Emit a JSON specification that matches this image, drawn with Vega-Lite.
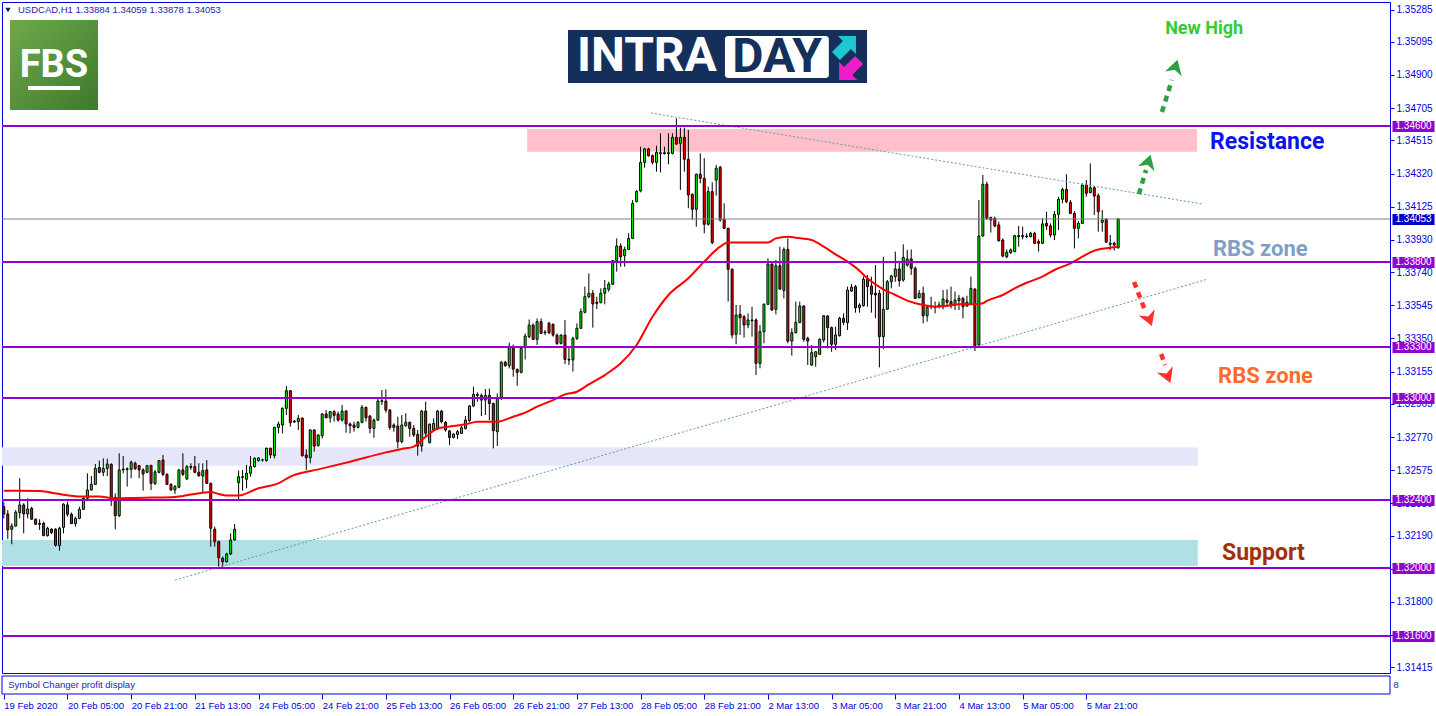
{
"$schema": "https://vega.github.io/schema/vega-lite/v6.json",
"background": "#ffffff",
"autosize": {"type": "none"},
"padding": {"left": 2, "top": 2, "right": 46, "bottom": 43},
"width": 1388,
"height": 671,
"config": {"view": {"stroke": "#0000e0", "strokeWidth": 1}, "axis": {"grid": false}, "scale": {"continuousPadding": 0}},
"resolve": {"axis": {"x": "independent", "y": "independent"}},
"datasets": {
"candles": [
{"i":0,"o":1.32361,"h":1.3239,"l":1.32292,"c":1.32318},
{"i":1,"o":1.32318,"h":1.32341,"l":1.32171,"c":1.32224},
{"i":2,"o":1.32228,"h":1.32263,"l":1.3214,"c":1.32247},
{"i":3,"o":1.32247,"h":1.32341,"l":1.32243,"c":1.32328},
{"i":4,"o":1.32326,"h":1.32528,"l":1.32292,"c":1.32371},
{"i":5,"o":1.32371,"h":1.32381,"l":1.32204,"c":1.32318},
{"i":6,"o":1.32318,"h":1.3241,"l":1.32292,"c":1.32347},
{"i":7,"o":1.32351,"h":1.32361,"l":1.32283,"c":1.32287},
{"i":8,"o":1.32287,"h":1.32292,"l":1.32253,"c":1.32257},
{"i":9,"o":1.32263,"h":1.32287,"l":1.32224,"c":1.32257},
{"i":10,"o":1.32263,"h":1.32273,"l":1.32188,"c":1.3219},
{"i":11,"o":1.3219,"h":1.32243,"l":1.32185,"c":1.32234},
{"i":12,"o":1.32228,"h":1.32234,"l":1.322,"c":1.32208},
{"i":13,"o":1.32228,"h":1.32234,"l":1.32126,"c":1.32134},
{"i":14,"o":1.32132,"h":1.32243,"l":1.32102,"c":1.32234},
{"i":15,"o":1.32239,"h":1.32381,"l":1.32204,"c":1.32375},
{"i":16,"o":1.32371,"h":1.3239,"l":1.32302,"c":1.32316},
{"i":17,"o":1.32316,"h":1.32326,"l":1.32259,"c":1.32261},
{"i":18,"o":1.32261,"h":1.32302,"l":1.32243,"c":1.32292},
{"i":19,"o":1.32292,"h":1.32361,"l":1.32287,"c":1.32345},
{"i":20,"o":1.32345,"h":1.3242,"l":1.32341,"c":1.3241},
{"i":21,"o":1.3241,"h":1.32557,"l":1.324,"c":1.32459},
{"i":22,"o":1.32459,"h":1.32541,"l":1.32455,"c":1.32492},
{"i":23,"o":1.32492,"h":1.32612,"l":1.32488,"c":1.32586},
{"i":24,"o":1.32592,"h":1.32632,"l":1.32557,"c":1.32563},
{"i":25,"o":1.32563,"h":1.32645,"l":1.32541,"c":1.32586},
{"i":26,"o":1.32586,"h":1.32643,"l":1.32541,"c":1.32612},
{"i":27,"o":1.3261,"h":1.32615,"l":1.32365,"c":1.32396},
{"i":28,"o":1.32416,"h":1.32439,"l":1.32228,"c":1.32308},
{"i":29,"o":1.32308,"h":1.32675,"l":1.323,"c":1.32577},
{"i":30,"o":1.32577,"h":1.32659,"l":1.32557,"c":1.32582},
{"i":31,"o":1.3258,"h":1.32592,"l":1.32479,"c":1.32584},
{"i":32,"o":1.3258,"h":1.32632,"l":1.32528,"c":1.32622},
{"i":33,"o":1.32616,"h":1.32626,"l":1.32577,"c":1.32584},
{"i":34,"o":1.32602,"h":1.32606,"l":1.32528,"c":1.32577},
{"i":35,"o":1.32577,"h":1.32587,"l":1.32455,"c":1.32553},
{"i":36,"o":1.32563,"h":1.32606,"l":1.32557,"c":1.32602},
{"i":37,"o":1.32604,"h":1.32606,"l":1.32459,"c":1.32498},
{"i":38,"o":1.32498,"h":1.32577,"l":1.32488,"c":1.32565},
{"i":39,"o":1.32563,"h":1.32635,"l":1.32557,"c":1.32632},
{"i":40,"o":1.32635,"h":1.32665,"l":1.32541,"c":1.32551},
{"i":41,"o":1.32551,"h":1.32557,"l":1.32488,"c":1.32492},
{"i":42,"o":1.32492,"h":1.32498,"l":1.32455,"c":1.32459},
{"i":43,"o":1.32459,"h":1.32488,"l":1.32435,"c":1.32479},
{"i":44,"o":1.32475,"h":1.3258,"l":1.32469,"c":1.32577},
{"i":45,"o":1.32577,"h":1.32675,"l":1.32541,"c":1.32551},
{"i":46,"o":1.32524,"h":1.32606,"l":1.32518,"c":1.32596},
{"i":47,"o":1.32592,"h":1.32616,"l":1.32577,"c":1.32598},
{"i":48,"o":1.32596,"h":1.32659,"l":1.32557,"c":1.32563},
{"i":49,"o":1.32563,"h":1.32616,"l":1.32537,"c":1.32543},
{"i":50,"o":1.32541,"h":1.32616,"l":1.32443,"c":1.32573},
{"i":51,"o":1.32577,"h":1.32635,"l":1.32494,"c":1.32498},
{"i":52,"o":1.32498,"h":1.32502,"l":1.32126,"c":1.32234},
{"i":53,"o":1.32228,"h":1.32243,"l":1.32126,"c":1.32155},
{"i":54,"o":1.32155,"h":1.32161,"l":1.32008,"c":1.32061},
{"i":55,"o":1.32057,"h":1.32067,"l":1.32004,"c":1.32037},
{"i":56,"o":1.32037,"h":1.3209,"l":1.32031,"c":1.32082},
{"i":57,"o":1.32082,"h":1.32204,"l":1.32077,"c":1.32165},
{"i":58,"o":1.32165,"h":1.32259,"l":1.32161,"c":1.32228},
{"i":59,"o":1.32502,"h":1.32573,"l":1.324,"c":1.32537},
{"i":60,"o":1.32533,"h":1.32577,"l":1.32455,"c":1.32537},
{"i":61,"o":1.32522,"h":1.32606,"l":1.32469,"c":1.32557},
{"i":62,"o":1.32557,"h":1.32659,"l":1.32537,"c":1.32596},
{"i":63,"o":1.32596,"h":1.32651,"l":1.32592,"c":1.32645},
{"i":64,"o":1.32632,"h":1.32651,"l":1.32626,"c":1.32647},
{"i":65,"o":1.32635,"h":1.32643,"l":1.32626,"c":1.32636},
{"i":66,"o":1.32632,"h":1.32708,"l":1.32626,"c":1.32704},
{"i":67,"o":1.32704,"h":1.32708,"l":1.32645,"c":1.32665},
{"i":68,"o":1.32661,"h":1.32831,"l":1.32645,"c":1.32827},
{"i":69,"o":1.32827,"h":1.32861,"l":1.32792,"c":1.32847},
{"i":70,"o":1.32841,"h":1.32945,"l":1.32792,"c":1.32939},
{"i":71,"o":1.32939,"h":1.33071,"l":1.329,"c":1.33043},
{"i":72,"o":1.33043,"h":1.33047,"l":1.32831,"c":1.32855},
{"i":73,"o":1.32864,"h":1.3287,"l":1.32855,"c":1.32859},
{"i":74,"o":1.32861,"h":1.329,"l":1.32812,"c":1.3288},
{"i":75,"o":1.32882,"h":1.32885,"l":1.32655,"c":1.32661},
{"i":76,"o":1.32665,"h":1.32698,"l":1.32576,"c":1.32649},
{"i":77,"o":1.32649,"h":1.32815,"l":1.32616,"c":1.32812},
{"i":78,"o":1.32812,"h":1.32815,"l":1.32684,"c":1.32717},
{"i":79,"o":1.32721,"h":1.32786,"l":1.32713,"c":1.32782},
{"i":80,"o":1.32778,"h":1.3291,"l":1.32762,"c":1.32906},
{"i":81,"o":1.32906,"h":1.32929,"l":1.3288,"c":1.32884},
{"i":82,"o":1.32884,"h":1.32923,"l":1.32855,"c":1.3292},
{"i":83,"o":1.3292,"h":1.32929,"l":1.32861,"c":1.32898},
{"i":84,"o":1.32906,"h":1.3292,"l":1.32861,"c":1.3287},
{"i":85,"o":1.3287,"h":1.32959,"l":1.32861,"c":1.32923},
{"i":86,"o":1.32923,"h":1.32929,"l":1.32796,"c":1.32847},
{"i":87,"o":1.32847,"h":1.32855,"l":1.32792,"c":1.32837},
{"i":88,"o":1.32841,"h":1.32861,"l":1.32802,"c":1.32827},
{"i":89,"o":1.32827,"h":1.32864,"l":1.32821,"c":1.32857},
{"i":90,"o":1.32857,"h":1.32959,"l":1.32851,"c":1.32945},
{"i":91,"o":1.32945,"h":1.32949,"l":1.32861,"c":1.32884},
{"i":92,"o":1.32894,"h":1.329,"l":1.32792,"c":1.32821},
{"i":93,"o":1.32821,"h":1.3288,"l":1.32766,"c":1.3287},
{"i":94,"o":1.3287,"h":1.32998,"l":1.32866,"c":1.32982},
{"i":95,"o":1.3298,"h":1.33047,"l":1.32959,"c":1.32984},
{"i":96,"o":1.32982,"h":1.33051,"l":1.32914,"c":1.32929},
{"i":97,"o":1.32929,"h":1.32935,"l":1.32812,"c":1.32827},
{"i":98,"o":1.32841,"h":1.32851,"l":1.32802,"c":1.32827},
{"i":99,"o":1.32835,"h":1.3289,"l":1.32704,"c":1.32743},
{"i":100,"o":1.32743,"h":1.329,"l":1.32733,"c":1.32841},
{"i":101,"o":1.32837,"h":1.3291,"l":1.32831,"c":1.32857},
{"i":102,"o":1.32857,"h":1.32861,"l":1.32772,"c":1.32821},
{"i":103,"o":1.32821,"h":1.32841,"l":1.32772,"c":1.32782},
{"i":104,"o":1.32786,"h":1.32812,"l":1.32661,"c":1.32717},
{"i":105,"o":1.32717,"h":1.32929,"l":1.32684,"c":1.32923},
{"i":106,"o":1.32923,"h":1.32978,"l":1.32772,"c":1.32792},
{"i":107,"o":1.32737,"h":1.32851,"l":1.32733,"c":1.32845},
{"i":108,"o":1.32812,"h":1.3288,"l":1.32802,"c":1.32851},
{"i":109,"o":1.32821,"h":1.32929,"l":1.32812,"c":1.32923},
{"i":110,"o":1.32923,"h":1.32929,"l":1.32851,"c":1.32861},
{"i":111,"o":1.32857,"h":1.32864,"l":1.32802,"c":1.32812},
{"i":112,"o":1.32806,"h":1.32812,"l":1.32723,"c":1.32768},
{"i":113,"o":1.32768,"h":1.32792,"l":1.32762,"c":1.32788},
{"i":114,"o":1.32786,"h":1.32812,"l":1.32759,"c":1.32802},
{"i":115,"o":1.32792,"h":1.32841,"l":1.32788,"c":1.32825},
{"i":116,"o":1.32821,"h":1.32894,"l":1.32815,"c":1.3287},
{"i":117,"o":1.32866,"h":1.32959,"l":1.32861,"c":1.32953},
{"i":118,"o":1.32953,"h":1.33066,"l":1.32949,"c":1.33021},
{"i":119,"o":1.33015,"h":1.33033,"l":1.32978,"c":1.33021},
{"i":120,"o":1.33015,"h":1.33027,"l":1.32894,"c":1.32988},
{"i":121,"o":1.32988,"h":1.33053,"l":1.329,"c":1.33015},
{"i":122,"o":1.33015,"h":1.33055,"l":1.3287,"c":1.32968},
{"i":123,"o":1.32968,"h":1.32972,"l":1.32704,"c":1.32808},
{"i":124,"o":1.32802,"h":1.33027,"l":1.32717,"c":1.32998},
{"i":125,"o":1.32998,"h":1.33217,"l":1.32988,"c":1.3321},
{"i":126,"o":1.3321,"h":1.33219,"l":1.33184,"c":1.3319},
{"i":127,"o":1.3319,"h":1.33325,"l":1.33174,"c":1.33296},
{"i":128,"o":1.33296,"h":1.33315,"l":1.33125,"c":1.3317},
{"i":129,"o":1.33168,"h":1.33174,"l":1.33072,"c":1.33151},
{"i":130,"o":1.33151,"h":1.33298,"l":1.33145,"c":1.33292},
{"i":131,"o":1.33296,"h":1.3338,"l":1.33227,"c":1.33364},
{"i":132,"o":1.33361,"h":1.33462,"l":1.33351,"c":1.33429},
{"i":133,"o":1.33429,"h":1.33439,"l":1.33341,"c":1.33345},
{"i":134,"o":1.33345,"h":1.33468,"l":1.33312,"c":1.33449},
{"i":135,"o":1.33449,"h":1.33468,"l":1.33376,"c":1.3338},
{"i":136,"o":1.33384,"h":1.334,"l":1.3337,"c":1.33388},
{"i":137,"o":1.33439,"h":1.33449,"l":1.33376,"c":1.33384},
{"i":138,"o":1.33433,"h":1.33439,"l":1.33361,"c":1.3337},
{"i":139,"o":1.3337,"h":1.3338,"l":1.33312,"c":1.33321},
{"i":140,"o":1.33321,"h":1.33374,"l":1.33315,"c":1.3337},
{"i":141,"o":1.3337,"h":1.33459,"l":1.332,"c":1.33227},
{"i":142,"o":1.33227,"h":1.33302,"l":1.33194,"c":1.33223},
{"i":143,"o":1.33224,"h":1.33361,"l":1.33155,"c":1.33351},
{"i":144,"o":1.33351,"h":1.33439,"l":1.33341,"c":1.3341},
{"i":145,"o":1.3341,"h":1.33527,"l":1.33406,"c":1.33508},
{"i":146,"o":1.33504,"h":1.33655,"l":1.33498,"c":1.33596},
{"i":147,"o":1.33596,"h":1.33733,"l":1.33586,"c":1.33616},
{"i":148,"o":1.33616,"h":1.33635,"l":1.33414,"c":1.33553},
{"i":149,"o":1.33563,"h":1.33596,"l":1.33523,"c":1.33557},
{"i":150,"o":1.33561,"h":1.33645,"l":1.33557,"c":1.33616},
{"i":151,"o":1.33616,"h":1.33694,"l":1.33551,"c":1.33645},
{"i":152,"o":1.33639,"h":1.33684,"l":1.33625,"c":1.33671},
{"i":153,"o":1.33669,"h":1.33812,"l":1.33665,"c":1.33808},
{"i":154,"o":1.33808,"h":1.33939,"l":1.33743,"c":1.33894},
{"i":155,"o":1.33894,"h":1.3391,"l":1.33772,"c":1.33831},
{"i":156,"o":1.33837,"h":1.3389,"l":1.33772,"c":1.33874},
{"i":157,"o":1.33874,"h":1.33969,"l":1.33871,"c":1.33939},
{"i":158,"o":1.33939,"h":1.34165,"l":1.33935,"c":1.34145},
{"i":159,"o":1.34155,"h":1.34224,"l":1.34151,"c":1.34214},
{"i":160,"o":1.34218,"h":1.34478,"l":1.3421,"c":1.34386},
{"i":161,"o":1.34386,"h":1.34472,"l":1.34355,"c":1.34465},
{"i":162,"o":1.34465,"h":1.34472,"l":1.3442,"c":1.34425},
{"i":163,"o":1.34425,"h":1.34433,"l":1.34374,"c":1.34386},
{"i":164,"o":1.34386,"h":1.34484,"l":1.34331,"c":1.34445},
{"i":165,"o":1.34437,"h":1.34557,"l":1.34327,"c":1.34443},
{"i":166,"o":1.34437,"h":1.34478,"l":1.34433,"c":1.34443},
{"i":167,"o":1.34437,"h":1.34557,"l":1.34374,"c":1.34443},
{"i":168,"o":1.34439,"h":1.34557,"l":1.34433,"c":1.34533},
{"i":169,"o":1.34533,"h":1.34645,"l":1.34488,"c":1.34494},
{"i":170,"o":1.34498,"h":1.3459,"l":1.34224,"c":1.34533},
{"i":171,"o":1.34533,"h":1.3459,"l":1.34331,"c":1.34404},
{"i":172,"o":1.34404,"h":1.34576,"l":1.34116,"c":1.34194},
{"i":173,"o":1.34198,"h":1.34204,"l":1.34047,"c":1.3411},
{"i":174,"o":1.3411,"h":1.34321,"l":1.34008,"c":1.34316},
{"i":175,"o":1.34316,"h":1.34439,"l":1.34263,"c":1.34292},
{"i":176,"o":1.34292,"h":1.3441,"l":1.33969,"c":1.34022},
{"i":177,"o":1.34022,"h":1.34243,"l":1.34014,"c":1.34214},
{"i":178,"o":1.34214,"h":1.34269,"l":1.33904,"c":1.33914},
{"i":179,"o":1.34282,"h":1.34371,"l":1.3419,"c":1.34351},
{"i":180,"o":1.34357,"h":1.34365,"l":1.34037,"c":1.34047},
{"i":181,"o":1.34051,"h":1.34145,"l":1.33994,"c":1.33998},
{"i":182,"o":1.33998,"h":1.34002,"l":1.33567,"c":1.33757},
{"i":183,"o":1.33757,"h":1.33763,"l":1.33351,"c":1.33371},
{"i":184,"o":1.33375,"h":1.33547,"l":1.33316,"c":1.33488},
{"i":185,"o":1.33492,"h":1.33547,"l":1.33371,"c":1.33472},
{"i":186,"o":1.33478,"h":1.33488,"l":1.33355,"c":1.33429},
{"i":187,"o":1.33429,"h":1.33498,"l":1.3341,"c":1.33459},
{"i":188,"o":1.33459,"h":1.33537,"l":1.33361,"c":1.33455},
{"i":189,"o":1.33459,"h":1.33469,"l":1.33135,"c":1.33204},
{"i":190,"o":1.33204,"h":1.33429,"l":1.33175,"c":1.3339},
{"i":191,"o":1.3339,"h":1.33557,"l":1.33322,"c":1.33551},
{"i":192,"o":1.33551,"h":1.33822,"l":1.33547,"c":1.33788},
{"i":193,"o":1.33788,"h":1.33792,"l":1.33512,"c":1.33518},
{"i":194,"o":1.33522,"h":1.33812,"l":1.33492,"c":1.33778},
{"i":195,"o":1.33778,"h":1.3389,"l":1.33635,"c":1.33641},
{"i":196,"o":1.33633,"h":1.33886,"l":1.33586,"c":1.33874},
{"i":197,"o":1.33874,"h":1.33939,"l":1.33322,"c":1.33335},
{"i":198,"o":1.33335,"h":1.3341,"l":1.33249,"c":1.33384},
{"i":199,"o":1.33384,"h":1.33567,"l":1.3338,"c":1.33445},
{"i":200,"o":1.33445,"h":1.33567,"l":1.33439,"c":1.33541},
{"i":201,"o":1.33541,"h":1.33547,"l":1.33331,"c":1.33345},
{"i":202,"o":1.33351,"h":1.33361,"l":1.33194,"c":1.33335},
{"i":203,"o":1.33194,"h":1.33312,"l":1.3319,"c":1.33267},
{"i":204,"o":1.33243,"h":1.33276,"l":1.33184,"c":1.33272},
{"i":205,"o":1.33257,"h":1.33351,"l":1.33253,"c":1.33345},
{"i":206,"o":1.33341,"h":1.33488,"l":1.33327,"c":1.33484},
{"i":207,"o":1.33482,"h":1.33488,"l":1.33292,"c":1.33414},
{"i":208,"o":1.33414,"h":1.3342,"l":1.33272,"c":1.33316},
{"i":209,"o":1.33316,"h":1.3342,"l":1.33282,"c":1.33371},
{"i":210,"o":1.33367,"h":1.33478,"l":1.33361,"c":1.33469},
{"i":211,"o":1.33469,"h":1.33498,"l":1.33429,"c":1.33445},
{"i":212,"o":1.33443,"h":1.33655,"l":1.334,"c":1.33635},
{"i":213,"o":1.33629,"h":1.33671,"l":1.33625,"c":1.33651},
{"i":214,"o":1.33655,"h":1.33665,"l":1.33502,"c":1.33531},
{"i":215,"o":1.33531,"h":1.33557,"l":1.33502,"c":1.33547},
{"i":216,"o":1.33543,"h":1.33714,"l":1.33537,"c":1.33698},
{"i":217,"o":1.33698,"h":1.33724,"l":1.33537,"c":1.33655},
{"i":218,"o":1.33659,"h":1.33714,"l":1.33502,"c":1.3361},
{"i":219,"o":1.33616,"h":1.33782,"l":1.33469,"c":1.33606},
{"i":220,"o":1.33616,"h":1.33635,"l":1.3318,"c":1.33361},
{"i":221,"o":1.33361,"h":1.33831,"l":1.33288,"c":1.33522},
{"i":222,"o":1.33522,"h":1.33694,"l":1.33518,"c":1.33684},
{"i":223,"o":1.33684,"h":1.33724,"l":1.33645,"c":1.33718},
{"i":224,"o":1.33714,"h":1.33861,"l":1.33684,"c":1.33759},
{"i":225,"o":1.33759,"h":1.33802,"l":1.33655,"c":1.3369},
{"i":226,"o":1.33694,"h":1.33904,"l":1.33684,"c":1.33827},
{"i":227,"o":1.33782,"h":1.33871,"l":1.33773,"c":1.33818},
{"i":228,"o":1.33818,"h":1.33874,"l":1.33724,"c":1.33763},
{"i":229,"o":1.33763,"h":1.33773,"l":1.33582,"c":1.33586},
{"i":230,"o":1.3359,"h":1.33635,"l":1.33586,"c":1.33616},
{"i":231,"o":1.33616,"h":1.33655,"l":1.33439,"c":1.33484},
{"i":232,"o":1.33484,"h":1.33547,"l":1.33449,"c":1.33533},
{"i":233,"o":1.33537,"h":1.33596,"l":1.33522,"c":1.33541},
{"i":234,"o":1.33537,"h":1.33567,"l":1.33498,"c":1.33533},
{"i":235,"o":1.33541,"h":1.33567,"l":1.33527,"c":1.33547},
{"i":236,"o":1.33537,"h":1.33635,"l":1.33522,"c":1.33582},
{"i":237,"o":1.33576,"h":1.33639,"l":1.33537,"c":1.33563},
{"i":238,"o":1.33567,"h":1.33655,"l":1.33527,"c":1.33543},
{"i":239,"o":1.33547,"h":1.33626,"l":1.33518,"c":1.33576},
{"i":240,"o":1.33573,"h":1.33606,"l":1.33518,"c":1.33586},
{"i":241,"o":1.33586,"h":1.33596,"l":1.33469,"c":1.33537},
{"i":242,"o":1.33541,"h":1.33602,"l":1.33537,"c":1.33563},
{"i":243,"o":1.33557,"h":1.33714,"l":1.33547,"c":1.33645},
{"i":244,"o":1.33641,"h":1.33645,"l":1.33276,"c":1.33298},
{"i":245,"o":1.33312,"h":1.34165,"l":1.33306,"c":1.33953},
{"i":246,"o":1.33953,"h":1.34312,"l":1.33949,"c":1.34257},
{"i":247,"o":1.34257,"h":1.34273,"l":1.34047,"c":1.34057},
{"i":248,"o":1.34061,"h":1.34067,"l":1.33973,"c":1.34047},
{"i":249,"o":1.34057,"h":1.34067,"l":1.34004,"c":1.34012},
{"i":250,"o":1.34018,"h":1.34037,"l":1.3392,"c":1.33925},
{"i":251,"o":1.33929,"h":1.33939,"l":1.33827,"c":1.33835},
{"i":252,"o":1.33831,"h":1.33874,"l":1.33822,"c":1.33857},
{"i":253,"o":1.33855,"h":1.3388,"l":1.33847,"c":1.33871},
{"i":254,"o":1.33861,"h":1.33959,"l":1.33857,"c":1.33955},
{"i":255,"o":1.33949,"h":1.34012,"l":1.3389,"c":1.33955},
{"i":256,"o":1.33949,"h":1.34008,"l":1.33933,"c":1.33955},
{"i":257,"o":1.33949,"h":1.33969,"l":1.33939,"c":1.33953},
{"i":258,"o":1.33949,"h":1.33978,"l":1.33945,"c":1.33969},
{"i":259,"o":1.33969,"h":1.33978,"l":1.33906,"c":1.3391},
{"i":260,"o":1.3392,"h":1.33933,"l":1.33861,"c":1.3391},
{"i":261,"o":1.3391,"h":1.34057,"l":1.33906,"c":1.34024},
{"i":262,"o":1.34027,"h":1.34096,"l":1.33988,"c":1.34012},
{"i":263,"o":1.34012,"h":1.34027,"l":1.33945,"c":1.33959},
{"i":264,"o":1.33959,"h":1.341,"l":1.33929,"c":1.3408},
{"i":265,"o":1.3408,"h":1.34184,"l":1.33988,"c":1.34169},
{"i":266,"o":1.34169,"h":1.34237,"l":1.34145,"c":1.34227},
{"i":267,"o":1.34227,"h":1.34316,"l":1.34145,"c":1.34155},
{"i":268,"o":1.34151,"h":1.34165,"l":1.34082,"c":1.34086},
{"i":269,"o":1.34086,"h":1.341,"l":1.3388,"c":1.33998},
{"i":270,"o":1.33998,"h":1.34041,"l":1.33939,"c":1.34027},
{"i":271,"o":1.34027,"h":1.34263,"l":1.34024,"c":1.34253},
{"i":272,"o":1.34253,"h":1.34282,"l":1.34184,"c":1.34204},
{"i":273,"o":1.34208,"h":1.3438,"l":1.34204,"c":1.34237},
{"i":274,"o":1.34237,"h":1.34247,"l":1.34076,"c":1.34188},
{"i":275,"o":1.3419,"h":1.34204,"l":1.33978,"c":1.34096},
{"i":276,"o":1.34033,"h":1.34106,"l":1.33978,"c":1.34047},
{"i":277,"o":1.34051,"h":1.34057,"l":1.33914,"c":1.33916},
{"i":278,"o":1.3391,"h":1.33959,"l":1.33871,"c":1.33904},
{"i":279,"o":1.3391,"h":1.3392,"l":1.33867,"c":1.339},
{"i":280,"o":1.33884,"h":1.34059,"l":1.33878,"c":1.34053}
],
"ma": [
{"i":0,"v":1.32455},{"i":4,"v":1.32455},{"i":9,"v":1.32453},{"i":12,"v":1.32443},{"i":16,"v":1.32428},{"i":20,"v":1.3242},{"i":24,"v":1.3242},{"i":28,"v":1.3241},{"i":33,"v":1.32412},{"i":37,"v":1.32414},{"i":43,"v":1.32418},{"i":45,"v":1.32424},{"i":48,"v":1.32435},{"i":50,"v":1.32443},{"i":52,"v":1.32447},{"i":54,"v":1.32435},{"i":56,"v":1.32426},{"i":59,"v":1.32426},{"i":61,"v":1.32439},{"i":64,"v":1.32469},{"i":66,"v":1.32479},{"i":69,"v":1.32498},{"i":72,"v":1.32538},{"i":79,"v":1.3258},{"i":87,"v":1.32625},{"i":96,"v":1.3268},{"i":100,"v":1.327},{"i":103,"v":1.32714},{"i":106,"v":1.32772},{"i":109,"v":1.32821},{"i":113,"v":1.32835},{"i":116,"v":1.32845},{"i":119,"v":1.32861},{"i":124,"v":1.32861},{"i":128,"v":1.3289},{"i":131,"v":1.32914},{"i":134,"v":1.32949},{"i":138,"v":1.32988},{"i":141,"v":1.33021},{"i":144,"v":1.33037},{"i":147,"v":1.3308},{"i":151,"v":1.33135},{"i":155,"v":1.33204},{"i":159,"v":1.33312},{"i":163,"v":1.33478},{"i":167,"v":1.33606},{"i":172,"v":1.33704},{"i":176,"v":1.33802},{"i":180,"v":1.3389},{"i":182,"v":1.33914},{"i":188,"v":1.33914},{"i":192,"v":1.33914},{"i":194,"v":1.33939},{"i":197,"v":1.33949},{"i":199,"v":1.33943},{"i":203,"v":1.33929},{"i":206,"v":1.3389},{"i":209,"v":1.33845},{"i":212,"v":1.33802},{"i":215,"v":1.33749},{"i":217,"v":1.33704},{"i":221,"v":1.33639},{"i":224,"v":1.33606},{"i":227,"v":1.33573},{"i":231,"v":1.33547},{"i":234,"v":1.33537},{"i":237,"v":1.33543},{"i":241,"v":1.33553},{"i":244,"v":1.33551},{"i":246,"v":1.33557},{"i":247,"v":1.33571},{"i":251,"v":1.33606},{"i":254,"v":1.33645},{"i":257,"v":1.33678},{"i":261,"v":1.33714},{"i":264,"v":1.33753},{"i":268,"v":1.33792},{"i":271,"v":1.33831},{"i":274,"v":1.33867},{"i":278,"v":1.33884},{"i":280,"v":1.3389}
]
},
"layer": [
{"data": {"values": [{"a": -0.452, "b": 348.3, "lo": 1.312588, "hi": 1.313647}]},
 "mark": {"type": "rect", "fill": "#ffffff", "stroke": "#0000e0", "strokeWidth": 1},
 "encoding": {"x": {"field": "a", "type": "quantitative", "scale": {"domain": [-0.452, 348.3], "nice": false, "zero": false, "padding": 0},
   "axis": {"orient": "bottom", "offset": 21, "values": [0, 16, 32, 48, 64, 80, 96, 112, 128, 144, 160, 176, 192, 208, 224, 240, 256, 272],
    "labelExpr": "['19 Feb 2020','20 Feb 05:00','20 Feb 21:00','21 Feb 13:00','24 Feb 05:00','24 Feb 21:00','25 Feb 13:00','26 Feb 05:00','26 Feb 21:00','27 Feb 13:00','28 Feb 05:00','28 Feb 21:00','2 Mar 13:00','3 Mar 05:00','3 Mar 21:00','4 Mar 13:00','5 Mar 05:00','5 Mar 21:00'][round(datum.value/16)]",
    "domain": false, "tickSize": 5, "tickColor": "#0000e0", "labelColor": "#0000e0", "labelFont": "Liberation Sans", "labelFontSize": 9.5, "labelAlign": "left", "labelPadding": 1, "labelOverlap": false, "labelFlush": false, "labelBound": false, "title": null, "grid": false}},
  "x2": {"field": "b"},
  "y": {"field": "lo", "type": "quantitative", "scale": {"domain": [1.3138235, 1.3532941], "nice": false, "zero": false}, "axis": null}, "y2": {"field": "hi"}}},
{"data": {"values": [{"i": 1.1, "v": 1.313118, "t": "Symbol Changer profit display"}, {"i": 349.2, "v": 1.313118, "t": "8"}]},
 "mark": {"type": "text", "align": "left", "baseline": "middle", "font": "Liberation Sans", "fontSize": 9.5, "color": "#1c1cb4"},
 "encoding": {"x": {"field": "i", "type": "quantitative", "scale": {"domain": [-0.452, 348.3], "nice": false, "zero": false, "padding": 0}, "axis": null},
  "y": {"field": "v", "type": "quantitative", "scale": {"domain": [1.3138235, 1.3532941], "nice": false, "zero": false}, "axis": null}, "text": {"field": "t"}}},
{"data": {"values": [{"a": -0.452, "b": 300, "lo": 1.32602, "hi": 1.3271}]},
 "mark": {"type": "rect", "color": "#e6e6fa"},
 "encoding": {"x": {"field": "a", "type": "quantitative", "scale": {"domain": [-0.452, 348.3], "nice": false, "zero": false, "padding": 0}, "axis": null}, "x2": {"field": "b"},
  "y": {"field": "lo", "type": "quantitative", "scale": {"domain": [1.3138235, 1.3532941], "nice": false, "zero": false}, "axis": null}, "y2": {"field": "hi"}}},
{"data": {"values": [{"a": -0.452, "b": 300, "lo": 1.32012, "hi": 1.32165}]},
 "mark": {"type": "rect", "color": "#b0e0e6"},
 "encoding": {"x": {"field": "a", "type": "quantitative", "scale": {"domain": [-0.452, 348.3], "nice": false, "zero": false, "padding": 0}, "axis": null}, "x2": {"field": "b"},
  "y": {"field": "lo", "type": "quantitative", "scale": {"domain": [1.3138235, 1.3532941], "nice": false, "zero": false}, "axis": null}, "y2": {"field": "hi"}}},
{"data": {"values": [{"a": 131.5, "b": 299.8, "lo": 1.34449, "hi": 1.34582}]},
 "mark": {"type": "rect", "color": "#ffc0cb"},
 "encoding": {"x": {"field": "a", "type": "quantitative", "scale": {"domain": [-0.452, 348.3], "nice": false, "zero": false, "padding": 0}, "axis": null}, "x2": {"field": "b"},
  "y": {"field": "lo", "type": "quantitative", "scale": {"domain": [1.3138235, 1.3532941], "nice": false, "zero": false}, "axis": null}, "y2": {"field": "hi"}}},
{"data": {"values": [{"a": 1.56, "b": 23.67, "lo": 1.346941, "hi": 1.352235}]},
 "mark": {"type": "rect", "color": {"gradient": "linear", "x1": 0, "y1": 0, "x2": 1, "y2": 1, "stops": [{"offset": 0, "color": "#6fa84b"}, {"offset": 1, "color": "#3e7a2c"}]}},
 "encoding": {"x": {"field": "a", "type": "quantitative", "scale": {"domain": [-0.452, 348.3], "nice": false, "zero": false, "padding": 0}, "axis": null}, "x2": {"field": "b"},
  "y": {"field": "lo", "type": "quantitative", "scale": {"domain": [1.3138235, 1.3532941], "nice": false, "zero": false}, "axis": null}, "y2": {"field": "hi"}}},
{"data": {"values": [{"a": 6.08, "b": 19.15, "lo": 1.348117, "hi": 1.348353}]},
 "mark": {"type": "rect", "color": "#ffffff"},
 "encoding": {"x": {"field": "a", "type": "quantitative", "scale": {"domain": [-0.452, 348.3], "nice": false, "zero": false, "padding": 0}, "axis": null}, "x2": {"field": "b"},
  "y": {"field": "lo", "type": "quantitative", "scale": {"domain": [1.3138235, 1.3532941], "nice": false, "zero": false}, "axis": null}, "y2": {"field": "hi"}}},
{"data": {"values": [{"i": 12.61, "v": 1.34953, "t": "FBS"}]},
 "mark": {"type": "text", "font": "Roboto", "fontSize": 38, "fontWeight": "bold", "color": "#ffffff", "align": "center", "baseline": "middle"},
 "encoding": {"x": {"field": "i", "type": "quantitative", "scale": {"domain": [-0.452, 348.3], "nice": false, "zero": false, "padding": 0}, "axis": null},
  "y": {"field": "v", "type": "quantitative", "scale": {"domain": [1.3138235, 1.3532941], "nice": false, "zero": false}, "axis": null}, "text": {"field": "t"}}},
{"data": {"values": [{"a": 141.76, "b": 216.9, "lo": 1.348529, "hi": 1.351647}]},
 "mark": {"type": "rect", "color": "#14305a"},
 "encoding": {"x": {"field": "a", "type": "quantitative", "scale": {"domain": [-0.452, 348.3], "nice": false, "zero": false, "padding": 0}, "axis": null}, "x2": {"field": "b"},
  "y": {"field": "lo", "type": "quantitative", "scale": {"domain": [1.3138235, 1.3532941], "nice": false, "zero": false}, "axis": null}, "y2": {"field": "hi"}}},
{"data": {"values": [{"a": 181.2, "b": 207.3, "lo": 1.348824, "hi": 1.351294}]},
 "mark": {"type": "rect", "color": "#ffffff", "cornerRadius": 3},
 "encoding": {"x": {"field": "a", "type": "quantitative", "scale": {"domain": [-0.452, 348.3], "nice": false, "zero": false, "padding": 0}, "axis": null}, "x2": {"field": "b"},
  "y": {"field": "lo", "type": "quantitative", "scale": {"domain": [1.3138235, 1.3532941], "nice": false, "zero": false}, "axis": null}, "y2": {"field": "hi"}}},
{"data": {"values": [{"i": 144.0, "v": 1.35006, "t": "INTRA"}]},
 "mark": {"type": "text", "font": "Roboto", "fontSize": 48, "fontWeight": "bold", "color": "#ffffff", "align": "left", "baseline": "middle"},
 "encoding": {"x": {"field": "i", "type": "quantitative", "scale": {"domain": [-0.452, 348.3], "nice": false, "zero": false, "padding": 0}, "axis": null},
  "y": {"field": "v", "type": "quantitative", "scale": {"domain": [1.3138235, 1.3532941], "nice": false, "zero": false}, "axis": null}, "text": {"field": "t"}}},
{"data": {"values": [{"i": 194.3, "v": 1.35, "t": "DAY"}]},
 "mark": {"type": "text", "font": "Roboto", "fontSize": 48, "fontWeight": "bold", "color": "#14305a", "align": "center", "baseline": "middle"},
 "encoding": {"x": {"field": "i", "type": "quantitative", "scale": {"domain": [-0.452, 348.3], "nice": false, "zero": false, "padding": 0}, "axis": null},
  "y": {"field": "v", "type": "quantitative", "scale": {"domain": [1.3138235, 1.3532941], "nice": false, "zero": false}, "axis": null}, "text": {"field": "t"}}},
{"data": {"values": [{"i": 211.6, "v": 1.350706}]},
 "mark": {"type": "point", "shape": "M-0.4,1L-0.4,-0.1L-0.9,-0.1L0,-1L0.9,-0.1L0.4,-0.1L0.4,1Z", "filled": true, "color": "#1ec8d2", "opacity": 1, "size": 800, "angle": 45},
 "encoding": {"x": {"field": "i", "type": "quantitative", "scale": {"domain": [-0.452, 348.3], "nice": false, "zero": false, "padding": 0}, "axis": null},
  "y": {"field": "v", "type": "quantitative", "scale": {"domain": [1.3138235, 1.3532941], "nice": false, "zero": false}, "axis": null}}},
{"data": {"values": [{"i": 212.4, "v": 1.349294}]},
 "mark": {"type": "point", "shape": "M-0.4,1L-0.4,-0.1L-0.9,-0.1L0,-1L0.9,-0.1L0.4,-0.1L0.4,1Z", "filled": true, "color": "#f01ec8", "opacity": 1, "size": 800, "angle": 225},
 "encoding": {"x": {"field": "i", "type": "quantitative", "scale": {"domain": [-0.452, 348.3], "nice": false, "zero": false, "padding": 0}, "axis": null},
  "y": {"field": "v", "type": "quantitative", "scale": {"domain": [1.3138235, 1.3532941], "nice": false, "zero": false}, "axis": null}}},
{"data": {"values": [{"i": 3.57, "v": 1.352824, "t": "USDCAD,H1  1.33884 1.34059 1.33878 1.34053"}]},
 "mark": {"type": "text", "font": "Liberation Sans", "fontSize": 9.5, "color": "#1c1cb4", "align": "left", "baseline": "middle"},
 "encoding": {"x": {"field": "i", "type": "quantitative", "scale": {"domain": [-0.452, 348.3], "nice": false, "zero": false, "padding": 0}, "axis": null},
  "y": {"field": "v", "type": "quantitative", "scale": {"domain": [1.3138235, 1.3532941], "nice": false, "zero": false}, "axis": null}, "text": {"field": "t"}}},
{"data": {"values": [{"i": 1.06, "v": 1.352824}]},
 "mark": {"type": "point", "shape": "triangle-down", "filled": true, "color": "#14146e", "opacity": 1, "size": 28},
 "encoding": {"x": {"field": "i", "type": "quantitative", "scale": {"domain": [-0.452, 348.3], "nice": false, "zero": false, "padding": 0}, "axis": null},
  "y": {"field": "v", "type": "quantitative", "scale": {"domain": [1.3138235, 1.3532941], "nice": false, "zero": false}, "axis": null}}},
{"data": {"name": "candles"},
 "mark": {"type": "rule", "color": "#000000", "strokeWidth": 1},
 "encoding": {"x": {"field": "i", "type": "quantitative", "scale": {"domain": [-0.452, 348.3], "nice": false, "zero": false, "padding": 0}, "axis": null},
  "y": {"field": "l", "type": "quantitative", "scale": {"domain": [1.3138235, 1.3532941], "nice": false, "zero": false},
   "axis": {"orient": "right", "values": [1.35285, 1.35095, 1.349, 1.34705, 1.34515, 1.3432, 1.34125, 1.3393, 1.3374, 1.33545, 1.3335, 1.33155, 1.32965, 1.3277, 1.32575, 1.3238, 1.3219, 1.31995, 1.318, 1.31605, 1.31415], "format": ".5f", "tickSize": 4, "tickColor": "#0000e0", "domainColor": "#0000e0", "labelColor": "#0000e0", "labelFont": "Liberation Sans", "labelFontSize": 10, "labelPadding": 2, "labelOverlap": false, "labelFlush": false, "title": null, "grid": false}},
  "y2": {"field": "h"}}},
{"data": {"name": "candles"},
 "mark": {"type": "bar", "orient": "vertical", "size": 2, "stroke": "#000000", "strokeWidth": 1},
 "encoding": {"x": {"field": "i", "type": "quantitative", "scale": {"domain": [-0.452, 348.3], "nice": false, "zero": false, "padding": 0}, "axis": null},
  "y": {"field": "o", "type": "quantitative", "scale": {"domain": [1.3138235, 1.3532941], "nice": false, "zero": false}, "axis": null},
  "y2": {"field": "c"},
  "fill": {"condition": {"test": "datum.c >= datum.o", "value": "#00ff00"}, "value": "#ff0000"}}},
{"data": {"name": "ma"},
 "mark": {"type": "line", "color": "#ff0000", "strokeWidth": 2, "interpolate": "monotone"},
 "encoding": {"x": {"field": "i", "type": "quantitative", "scale": {"domain": [-0.452, 348.3], "nice": false, "zero": false, "padding": 0}, "axis": null},
  "y": {"field": "v", "type": "quantitative", "scale": {"domain": [1.3138235, 1.3532941], "nice": false, "zero": false}, "axis": null}}},
{"data": {"values": [{"t": "lower", "i": 43.0, "v": 1.31929}, {"t": "lower", "i": 302.6, "v": 1.337}, {"t": "upper", "i": 162.6, "v": 1.346765}, {"t": "upper", "i": 301.1, "v": 1.341412}]},
 "mark": {"type": "line", "color": "#5f9ea0", "strokeWidth": 1, "strokeDash": [2, 2]},
 "encoding": {"x": {"field": "i", "type": "quantitative", "scale": {"domain": [-0.452, 348.3], "nice": false, "zero": false, "padding": 0}, "axis": null},
  "y": {"field": "v", "type": "quantitative", "scale": {"domain": [1.3138235, 1.3532941], "nice": false, "zero": false}, "axis": null},
  "detail": {"field": "t"}}},
{"data": {"values": [{"v": 1.34053}]},
 "mark": {"type": "rule", "color": "#808080", "strokeWidth": 1},
 "encoding": {"y": {"field": "v", "type": "quantitative", "scale": {"domain": [1.3138235, 1.3532941], "nice": false, "zero": false}, "axis": null}}},
{"data": {"values": [{"v": 1.346}, {"v": 1.338}, {"v": 1.333}, {"v": 1.33}, {"v": 1.324}, {"v": 1.32}, {"v": 1.316}]},
 "mark": {"type": "rule", "color": "#9400d3", "strokeWidth": 2},
 "encoding": {"y": {"field": "v", "type": "quantitative", "scale": {"domain": [1.3138235, 1.3532941], "nice": false, "zero": false},
   "axis": {"orient": "right", "values": [1.346, 1.338, 1.333, 1.33, 1.324, 1.32, 1.316, 1.34053], "format": ".5f", "offset": 2, "domain": false, "tickSize": 42, "tickWidth": 11,
    "tickColor": {"condition": {"test": "datum.value === 1.34053", "value": "#0000c8"}, "value": "#9400d3"},
    "labelColor": "#ffffff", "labelFont": "Liberation Sans", "labelFontSize": 10, "labelPadding": -39, "labelOverlap": false, "labelFlush": false, "title": null, "grid": false, "zindex": 2}}}},
{"data": {"values": [{"k": "a", "i": 291.0, "v": 1.346824}, {"k": "a", "i": 293.5, "v": 1.348706}, {"k": "b", "i": 285.2, "v": 1.341988}, {"k": "b", "i": 287.0, "v": 1.343412}]},
 "mark": {"type": "line", "color": "#2ea043", "strokeWidth": 4.5, "strokeDash": [6, 5], "strokeCap": "butt"},
 "encoding": {"x": {"field": "i", "type": "quantitative", "scale": {"domain": [-0.452, 348.3], "nice": false, "zero": false, "padding": 0}, "axis": null},
  "y": {"field": "v", "type": "quantitative", "scale": {"domain": [1.3138235, 1.3532941], "nice": false, "zero": false}, "axis": null},
  "detail": {"field": "k"}}},
{"data": {"values": [{"k": "a", "i": 284.0, "v": 1.336824}, {"k": "a", "i": 286.7, "v": 1.335176}, {"k": "b", "i": 290.8, "v": 1.332588}, {"k": "b", "i": 291.8, "v": 1.331941}]},
 "mark": {"type": "line", "color": "#ff3030", "strokeWidth": 4.5, "strokeDash": [6, 5], "strokeCap": "butt"},
 "encoding": {"x": {"field": "i", "type": "quantitative", "scale": {"domain": [-0.452, 348.3], "nice": false, "zero": false, "padding": 0}, "axis": null},
  "y": {"field": "v", "type": "quantitative", "scale": {"domain": [1.3138235, 1.3532941], "nice": false, "zero": false}, "axis": null},
  "detail": {"field": "k"}}},
{"data": {"values": [{"i": 294.3, "v": 1.349412}]},
 "mark": {"type": "point", "shape": "M0,-1L1,0.7L0,0.2L-1,0.7Z", "filled": true, "color": "#2ea043", "opacity": 1, "size": 300, "angle": 16},
 "encoding": {"x": {"field": "i", "type": "quantitative", "scale": {"domain": [-0.452, 348.3], "nice": false, "zero": false, "padding": 0}, "axis": null},
  "y": {"field": "v", "type": "quantitative", "scale": {"domain": [1.3138235, 1.3532941], "nice": false, "zero": false}, "axis": null}}},
{"data": {"values": [{"i": 287.5, "v": 1.343824}]},
 "mark": {"type": "point", "shape": "M0,-1L1,0.7L0,0.2L-1,0.7Z", "filled": true, "color": "#2ea043", "opacity": 1, "size": 300, "angle": 17},
 "encoding": {"x": {"field": "i", "type": "quantitative", "scale": {"domain": [-0.452, 348.3], "nice": false, "zero": false, "padding": 0}, "axis": null},
  "y": {"field": "v", "type": "quantitative", "scale": {"domain": [1.3138235, 1.3532941], "nice": false, "zero": false}, "axis": null}}},
{"data": {"values": [{"i": 287.7, "v": 1.334706}]},
 "mark": {"type": "point", "shape": "M0,-1L1,0.7L0,0.2L-1,0.7Z", "filled": true, "color": "#ff3030", "opacity": 1, "size": 300, "angle": 159},
 "encoding": {"x": {"field": "i", "type": "quantitative", "scale": {"domain": [-0.452, 348.3], "nice": false, "zero": false, "padding": 0}, "axis": null},
  "y": {"field": "v", "type": "quantitative", "scale": {"domain": [1.3138235, 1.3532941], "nice": false, "zero": false}, "axis": null}}},
{"data": {"values": [{"i": 292.3, "v": 1.331353}]},
 "mark": {"type": "point", "shape": "M0,-1L1,0.7L0,0.2L-1,0.7Z", "filled": true, "color": "#ff3030", "opacity": 1, "size": 300, "angle": 158},
 "encoding": {"x": {"field": "i", "type": "quantitative", "scale": {"domain": [-0.452, 348.3], "nice": false, "zero": false, "padding": 0}, "axis": null},
  "y": {"field": "v", "type": "quantitative", "scale": {"domain": [1.3138235, 1.3532941], "nice": false, "zero": false}, "axis": null}}},
{"data": {"values": [{"i": 303.1, "v": 1.345059, "t": "Resistance"}]},
 "mark": {"type": "text", "font": "Roboto", "fontSize": 23, "fontWeight": "bold", "color": "#0a14f0", "align": "left", "baseline": "middle"},
 "encoding": {"x": {"field": "i", "type": "quantitative", "scale": {"domain": [-0.452, 348.3], "nice": false, "zero": false, "padding": 0}, "axis": null},
  "y": {"field": "v", "type": "quantitative", "scale": {"domain": [1.3138235, 1.3532941], "nice": false, "zero": false}, "axis": null}, "text": {"field": "t"}}},
{"data": {"values": [{"i": 303.8, "v": 1.338765, "t": "RBS zone"}]},
 "mark": {"type": "text", "font": "Roboto", "fontSize": 22, "fontWeight": "bold", "color": "#7f9fc7", "align": "left", "baseline": "middle"},
 "encoding": {"x": {"field": "i", "type": "quantitative", "scale": {"domain": [-0.452, 348.3], "nice": false, "zero": false, "padding": 0}, "axis": null},
  "y": {"field": "v", "type": "quantitative", "scale": {"domain": [1.3138235, 1.3532941], "nice": false, "zero": false}, "axis": null}, "text": {"field": "t"}}},
{"data": {"values": [{"i": 305.1, "v": 1.331294, "t": "RBS zone"}]},
 "mark": {"type": "text", "font": "Roboto", "fontSize": 22, "fontWeight": "bold", "color": "#ff6b2b", "align": "left", "baseline": "middle"},
 "encoding": {"x": {"field": "i", "type": "quantitative", "scale": {"domain": [-0.452, 348.3], "nice": false, "zero": false, "padding": 0}, "axis": null},
  "y": {"field": "v", "type": "quantitative", "scale": {"domain": [1.3138235, 1.3532941], "nice": false, "zero": false}, "axis": null}, "text": {"field": "t"}}},
{"data": {"values": [{"i": 306.1, "v": 1.320882, "t": "Support"}]},
 "mark": {"type": "text", "font": "Roboto", "fontSize": 23, "fontWeight": "bold", "color": "#a3300a", "align": "left", "baseline": "middle"},
 "encoding": {"x": {"field": "i", "type": "quantitative", "scale": {"domain": [-0.452, 348.3], "nice": false, "zero": false, "padding": 0}, "axis": null},
  "y": {"field": "v", "type": "quantitative", "scale": {"domain": [1.3138235, 1.3532941], "nice": false, "zero": false}, "axis": null}, "text": {"field": "t"}}},
{"data": {"values": [{"i": 291.8, "v": 1.351706, "t": "New High"}]},
 "mark": {"type": "text", "font": "Roboto", "fontSize": 18, "fontWeight": "bold", "color": "#33cc33", "align": "left", "baseline": "middle"},
 "encoding": {"x": {"field": "i", "type": "quantitative", "scale": {"domain": [-0.452, 348.3], "nice": false, "zero": false, "padding": 0}, "axis": null},
  "y": {"field": "v", "type": "quantitative", "scale": {"domain": [1.3138235, 1.3532941], "nice": false, "zero": false}, "axis": null}, "text": {"field": "t"}}}
]
}
